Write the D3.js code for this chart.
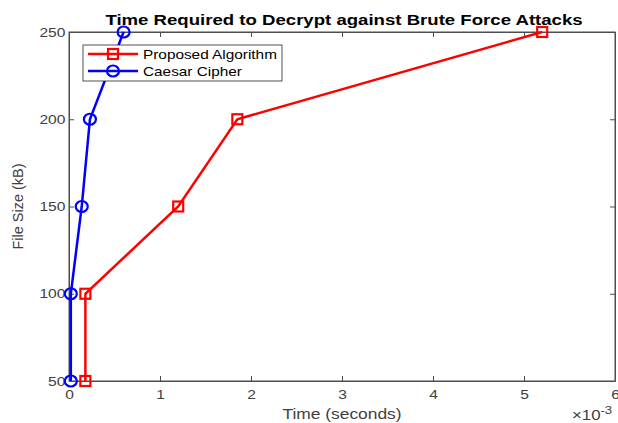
<!DOCTYPE html>
<html>
<head>
<meta charset="utf-8">
<script src="https://d3js.org/d3.v7.min.js"></script>
<style>
  body { margin: 0; background: #fff; }
  text { font-family: "Liberation Sans", Arial, sans-serif; }
</style>
</head>
<body>
<div id="chart"></div>
<script>
// data (time in seconds, file size in kB)
const proposedTime = [0.00018, 0.00018, 0.0012, 0.00185, 0.0052];
const proposedSize = [50, 100, 150, 200, 250];
const caesarTime = [0.00002, 0.00002, 0.00014, 0.00023, 0.0006];
const caesarSize = [50, 100, 150, 200, 250];
const xTicks = [0, 0.001, 0.002, 0.003, 0.004, 0.005, 0.006];
const yTicks = [50, 100, 150, 200, 250];

const width = 618, height = 423;
const m = {left: 69, right: 3, top: 32, bottom: 42};
const stretch = 1.2; // text in the picture is a bit wide

const svg = d3.select('#chart').append('svg')
    .attr('width', width)
    .attr('height', height);

const x = d3.scaleLinear().domain([0, 0.006]).range([m.left, width - m.right]);
const y = d3.scaleLinear().domain([50, 250]).range([height - m.bottom, m.top]);

const axisColor = '#4d4d4d';
const textColor = '#404040';

// text helper, stretched horizontally around its anchor
function label(ax, ay, str, size, opts = {}) {
    const g = svg.append('g')
        .attr('transform', `translate(${ax},${ay}) ${opts.rotate ? 'rotate(-90)' : ''} scale(${opts.rotate ? 1 : stretch},1)`);
    return g.append('text')
        .attr('text-anchor', opts.anchor || 'middle')
        .attr('fill', opts.color || textColor)
        .style('font-size', size + 'px')
        .style('font-weight', opts.bold ? 'bold' : 'normal')
        .text(str);
}

// box
svg.append('rect')
    .attr('x', x(0)).attr('y', y(250))
    .attr('width', x(0.006) - x(0)).attr('height', y(50) - y(250))
    .attr('fill', 'none').attr('stroke', axisColor).attr('stroke-width', 1);

// axes
const xAxis = svg.append('g')
    .attr('transform', `translate(0,${y(50)})`)
    .call(d3.axisBottom(x).tickValues(xTicks).tickSizeInner(-5).tickSizeOuter(0)
        .tickFormat(d => Math.round(d * 1000)));
const xTop = svg.append('g')
    .attr('transform', `translate(0,${y(250)})`)
    .call(d3.axisTop(x).tickValues(xTicks).tickSizeInner(-5).tickSizeOuter(0).tickFormat(''));
const yAxis = svg.append('g')
    .attr('transform', `translate(${x(0)},0)`)
    .call(d3.axisLeft(y).tickValues(yTicks).tickSizeInner(-5).tickSizeOuter(0));
const yRight = svg.append('g')
    .attr('transform', `translate(${x(0.006)},0)`)
    .call(d3.axisRight(y).tickValues(yTicks).tickSizeInner(-5).tickSizeOuter(0).tickFormat(''));

[xAxis, xTop, yAxis, yRight].forEach(g => {
    g.select('.domain').attr('stroke', axisColor);
    g.selectAll('.tick line').attr('stroke', axisColor);
    g.selectAll('.tick text').attr('fill', textColor).style('font-size', '13px')
        .attr('transform', `scale(${stretch},1)`);
});
xAxis.selectAll('.tick text').attr('dy', '1.15em');
yAxis.selectAll('.tick text').attr('x', -3);

// exponent label
const expo = label(572, 420, '', 14, {anchor: 'start'});
expo.append('tspan').text('\u00d710');
expo.append('tspan').attr('dy', -6).style('font-size', '11px').text('-3');

// labels
label((x(0) + x(0.006)) / 2, 419, 'Time (seconds)', 14.5);
label(23, (y(50) + y(250)) / 2, 'File Size (kB)', 14.5, {rotate: true});
label(344, 25, 'Time Required to Decrypt against Brute Force Attacks', 15.5, {bold: true, color: '#000'});

const line = d3.line().x(d => x(d[0])).y(d => y(d[1]));

function drawSeries(times, sizes, color, shape) {
    const pts = times.map((t, i) => [t, sizes[i]]);
    svg.append('path').datum(pts)
        .attr('d', line)
        .attr('fill', 'none').attr('stroke', color).attr('stroke-width', 2.5);
    pts.forEach(p => drawMarker(x(p[0]), y(p[1]), color, shape));
}

function drawMarker(cx, cy, color, shape) {
    if (shape === 'square') {
        svg.append('rect')
            .attr('x', cx - 5).attr('y', cy - 5)
            .attr('width', 10).attr('height', 10)
            .attr('fill', 'none').attr('stroke', color).attr('stroke-width', 2.2);
    } else {
        svg.append('ellipse')
            .attr('cx', cx).attr('cy', cy).attr('rx', 6).attr('ry', 5.5)
            .attr('fill', 'none').attr('stroke', color).attr('stroke-width', 2.2);
    }
}

drawSeries(proposedTime, proposedSize, '#ff0000', 'square');
drawSeries(caesarTime, caesarSize, '#0000ff', 'circle');

// legend
svg.append('rect')
    .attr('x', 83).attr('y', 45).attr('width', 199).attr('height', 36)
    .attr('fill', '#fff').attr('stroke', '#262626').attr('stroke-width', 0.8);
const items = [['Proposed Algorithm', '#ff0000', 'square', 54], ['Caesar Cipher', '#0000ff', 'circle', 71]];
items.forEach(([name, color, shape, ly]) => {
    svg.append('line')
        .attr('x1', 88).attr('x2', 138).attr('y1', ly).attr('y2', ly)
        .attr('stroke', color).attr('stroke-width', 2.5);
    drawMarker(113, ly, color, shape);
    label(143, ly + 4.5, name, 12.8, {anchor: 'start', color: '#000'});
});
</script>
</body>
</html>
